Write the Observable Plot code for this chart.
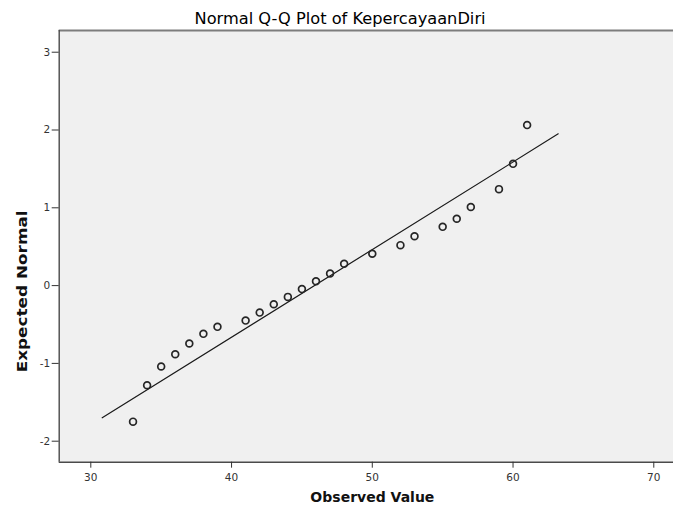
<!DOCTYPE html>
<html>
<head>
<meta charset="utf-8">
<script src="https://cdn.jsdelivr.net/npm/d3@7"></script>
<script src="https://cdn.jsdelivr.net/npm/@observablehq/plot@0.6"></script>
<style>
  html, body { margin: 0; padding: 0; background: #ffffff; }
  #chart { width: 673px; height: 509px; }
</style>
</head>
<body>
<div id="chart"></div>
<script>
// ---- data ----
const titleText = "Normal Q-Q Plot of KepercayaanDiri";
const xLabel = "Observed Value";
const yLabel = "Expected Normal";
const observed = [33, 34, 35, 36, 37, 38, 39, 41, 42, 43, 44, 45, 46, 47, 48, 50, 52, 53, 55, 56, 57, 59, 60, 61];
const expected = [-1.749, -1.28, -1.04, -0.883, -0.745, -0.62, -0.53, -0.45, -0.347, -0.24, -0.145, -0.045, 0.055, 0.155, 0.28, 0.41, 0.52, 0.635, 0.755, 0.86, 1.01, 1.24, 1.565, 2.063];
const lineX = [30.81, 63.21];
const lineY = [-1.699, 1.951];
const xTicks = [30, 40, 50, 60, 70];
const yTicks = [-2, -1, 0, 1, 2, 3];
const xDomain = [27.755, 71.4];
const yDomain = [-2.27, 3.279];

const points = observed.map((x, i) => ({x, y: expected[i]}));
const refLine = lineX.map((x, i) => ({x, y: lineY[i]}));

const font = "DejaVu Sans, sans-serif";

const plot = Plot.plot({
  width: 673,
  height: 509,
  marginTop: 30,
  marginBottom: 47.3,
  marginLeft: 58.7,
  marginRight: 0,
  style: {fontFamily: font, background: "#ffffff", color: "#222"},
  x: {domain: xDomain},
  y: {domain: yDomain},
  marks: [
    Plot.frame({fill: "#f0f0f0", stroke: "none"}),
    Plot.ruleY([yDomain[1]], {stroke: "#7d7d7d", strokeWidth: 2}),
    Plot.line(refLine, {x: "x", y: "y", stroke: "#1a1a1a", strokeWidth: 1.2}),
    Plot.dot(points, {x: "x", y: "y", r: 3.4, stroke: "#262626", strokeWidth: 1.7, fill: "none"}),
    Plot.ruleX([xDomain[0]], {stroke: "#4a4a4a", strokeWidth: 1.4}),
    Plot.ruleY([yDomain[0]], {stroke: "#4a4a4a", strokeWidth: 1.4}),
    Plot.axisX({ticks: xTicks, tickFormat: d => String(d), tickSize: 6, tickPadding: 5, fontSize: 10.5, label: null, stroke: "#333", fill: "#333"}),
    Plot.axisY({ticks: yTicks, tickFormat: d => String(d), tickSize: 7, tickPadding: 2, fontSize: 10.5, label: null, stroke: "#333", fill: "#333"}),
    Plot.text([titleText], {frameAnchor: "top", dx: -26.3, dy: -17, fontSize: 15, fill: "#000"}),
    Plot.text([xLabel], {frameAnchor: "bottom", dx: 6, dy: 40, fontSize: 14, fontWeight: "bold", fill: "#111"}),
    Plot.text([yLabel], {frameAnchor: "left", rotate: -90, textAnchor: "start", dx: -37, dy: 126, fontSize: 14, fontWeight: "bold", fill: "#111"})
  ]
});

document.getElementById("chart").appendChild(plot);

// stretch label texts to the widths measured on the reference
const widths = new Map([[titleText, 291], [xLabel, 124], [yLabel, 162]]);
d3.select(plot).selectAll("text").each(function() {
  const w = widths.get(this.textContent);
  if (w) {
    this.setAttribute("textLength", w);
    this.setAttribute("lengthAdjust", "spacingAndGlyphs");
  }
});
</script>
</body>
</html>
